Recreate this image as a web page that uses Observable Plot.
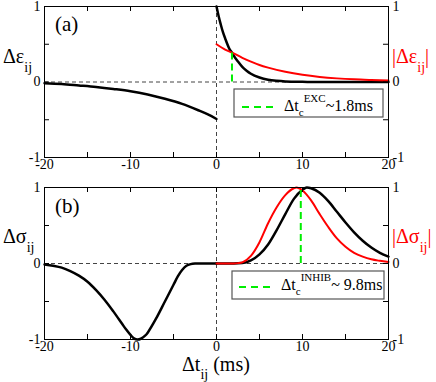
<!DOCTYPE html>
<html><head><meta charset="utf-8">
<script src="https://cdn.jsdelivr.net/npm/d3@7"></script>
<script src="https://cdn.jsdelivr.net/npm/@observablehq/plot@0.6"></script>
</head><body style="margin:0;background:#fff">
<div id="chart" style="width:436px;height:382px"></div>
<script>
// ---- data ----
const excBlackNegT = [-20,-18,-16,-14,-12,-10,-8,-6,-4,-2,-1,0];
const excBlackNegV = [-0.015,-0.025,-0.045,-0.066,-0.092,-0.122,-0.165,-0.222,-0.29,-0.38,-0.43,-0.49];
const excBlackPosT = [0,0.25,0.5,0.75,1,1.5,1.8,2,2.5,3,3.5,4,5,6,7,8,10,12,15,20];
const excBlackPosV = [1.0,0.87,0.76,0.66,0.58,0.44,0.39,0.35,0.27,0.2,0.15,0.11,0.06,0.03,0.015,0.007,0.002,0,0,0];
const excRedT = [0,1,1.8,3,4,5,6,8,10,12,14,16,18,20];
const excRedV = [0.5,0.43,0.39,0.32,0.27,0.225,0.19,0.135,0.095,0.067,0.048,0.035,0.027,0.021];
const excMarkT = [1.8];
const excMarkV = [0.39];

const inhBlackNegT = [-20,-19,-18,-17,-16,-15,-14,-13,-12,-11,-10.5,-10,-9.6,-9.2,-8.8,-8.3,-8,-7,-6,-5,-4.5,-4,-3.5,-3,-2.5,-1,0];
const inhBlackNegV = [-0.012,-0.03,-0.055,-0.1,-0.16,-0.24,-0.35,-0.48,-0.63,-0.79,-0.87,-0.94,-0.985,-1.0,-0.99,-0.95,-0.91,-0.72,-0.5,-0.28,-0.17,-0.085,-0.03,-0.008,0,0,0];
const inhBlackPosT = [0,2,3,4,5,6,7,8,9,10,10.5,11,12,13,14,15,16,17,18,19,20];
const inhBlackPosV = [0,0,0.005,0.04,0.12,0.25,0.44,0.65,0.85,0.97,1.0,0.99,0.93,0.82,0.68,0.54,0.41,0.3,0.21,0.14,0.09];
const inhRedT = [0,2,2.5,3,4,5,6,7,8,9,9.3,10,11,12,13,14,15,16,17,18,19,20];
const inhRedV = [0,0,0.005,0.015,0.1,0.28,0.53,0.74,0.9,0.99,1.0,0.96,0.83,0.65,0.48,0.33,0.22,0.14,0.09,0.055,0.035,0.02];
const inhMarkT = [9.8];
const inhMarkV = [1.0];

const xTicks = [-20,-15,-10,-5,0,5,10,15,20];
const xTickLabels = [-20,-10,0,10,20];
const yTicks = [-1,-0.5,0,0.5,1];
const yTickLabels = [-1,0,1];

const zip = (T, V) => T.map((t, i) => ({t, v: V[i]}));
const GREEN = "#00ee00", RED = "#ff0000";
const FONT = "Liberation Serif";

function rich(svg, x, y, parts, fill = "black") {
  const t = d3.select(svg).append("text").attr("x", x).attr("y", y)
    .attr("fill", fill).attr("text-anchor", "start").attr("font-family", FONT);
  for (const p of parts) t.append("tspan").attr("font-size", p.s).attr("font-family", FONT).attr("dy", p.dy || 0).text(p.t);
  return t;
}

function panel({height, mt, mb, negT, negV, posT, posV, redT, redV, markT, markV}) {
  const plotH = height - mt - mb;
  const TL = 5;
  return Plot.plot({
    width: 436, height, marginLeft: 44, marginRight: 48, marginTop: mt, marginBottom: mb,
    x: {domain: [-20, 20]}, y: {domain: [-1, 1]},
    style: {fontFamily: FONT, fontSize: "14px", background: "white", overflow: "visible"},
    marks: [
      Plot.ruleY([0], {stroke: "#444", strokeDasharray: "4,3", strokeWidth: 1}),
      Plot.ruleX([0], {stroke: "#444", strokeDasharray: "4,3", strokeWidth: 1}),
      Plot.line(zip(negT, negV), {x: "t", y: "v", stroke: "black", strokeWidth: 2.5, curve: "catmull-rom"}),
      Plot.line(zip(posT, posV), {x: "t", y: "v", stroke: "black", strokeWidth: 2.5, curve: "monotone-x"}),
      Plot.line(zip(redT, redV), {x: "t", y: "v", stroke: RED, strokeWidth: 2, curve: "monotone-x"}),
      Plot.ruleX(zip(markT, markV), {x: "t", y1: 0, y2: "v", stroke: GREEN, strokeWidth: 2, strokeDasharray: "7,4"}),
      Plot.frame({stroke: "black", strokeWidth: 1}),
      Plot.tickX(xTicks, {x: d => d, insetTop: plotH - TL, stroke: "black"}),
      Plot.tickX(xTicks, {x: d => d, insetBottom: plotH - TL, stroke: "black"}),
      Plot.tickY(yTicks, {y: d => d, insetRight: 344 - TL, stroke: "black"}),
      Plot.tickY(yTicks, {y: d => d, insetLeft: 344 - TL, stroke: "black"}),
      Plot.axisX(xTickLabels, {anchor: "bottom", tickSize: 0, tickPadding: 2, label: null, fontSize: 14, fontFamily: FONT, fontVariant: "normal", tickFormat: d => String(d)}),
      Plot.axisY(yTickLabels, {anchor: "left", tickSize: 0, tickPadding: 4, label: null, fontSize: 14, fontFamily: FONT, fontVariant: "normal", tickFormat: d => String(d)}),
      Plot.axisY(yTickLabels, {anchor: "right", tickSize: 0, tickPadding: 4, label: null, fontSize: 14, fontFamily: FONT, fontVariant: "normal", tickFormat: d => String(d)})
    ]
  });
}

const root = document.getElementById("chart");

const a = panel({height: 180, mt: 6, mb: 23,
  negT: excBlackNegT, negV: excBlackNegV, posT: excBlackPosT, posV: excBlackPosV,
  redT: excRedT, redV: excRedV, markT: excMarkT, markV: excMarkV});
a.style.display = "block";
root.appendChild(a);

const b = panel({height: 202, mt: 7, mb: 43,
  negT: inhBlackNegT, negV: inhBlackNegV, posT: inhBlackPosT, posV: inhBlackPosV,
  redT: inhRedT, redV: inhRedV, markT: inhMarkT, markV: inhMarkV});
b.style.display = "block";
root.appendChild(b);

// panel labels
rich(a, 55, 31, [{t: "(a)", s: 21}]);
rich(b, 55, 33, [{t: "(b)", s: 21}]);
rich(a, 3, 63, [{t: "Δε", s: 20}, {t: "ij", s: 14, dy: 9}]);
rich(a, 392, 63, [{t: "|Δε", s: 20}, {t: "ij", s: 14, dy: 9}, {t: "|", s: 20, dy: -9}], RED);
rich(b, 3, 63, [{t: "Δσ", s: 20}, {t: "ij", s: 14, dy: 9}]);
rich(b, 392, 63, [{t: "|Δσ", s: 20}, {t: "ij", s: 14, dy: 9}, {t: "|", s: 20, dy: -9}], RED);
rich(b, 182, 191, [{t: "Δt", s: 20}, {t: "ij", s: 14, dy: 8}, {t: " (ms)", s: 20, dy: -8}]);

// legend boxes
function legend(svg, x, y, w, h, lx1, lx2, ly, tx, ty, sup, rest) {
  const s = d3.select(svg);
  s.append("rect").attr("x", x).attr("y", y).attr("width", w).attr("height", h)
    .attr("fill", "white").attr("stroke", "#555").attr("stroke-width", 1.2);
  s.append("line").attr("x1", lx1).attr("x2", lx2).attr("y1", ly).attr("y2", ly)
    .attr("stroke", GREEN).attr("stroke-width", 2).attr("stroke-dasharray", "7,5");
  rich(svg, tx, ty, [{t: "Δt", s: 16}, {t: "c", s: 11, dy: 5}, {t: sup, s: 11, dy: -14}, {t: rest, s: 16, dy: 9}]);
}
legend(a, 234, 89, 149, 28, 242, 277, 107, 284, 111, "EXC", "~1.8ms");
legend(b, 232, 91, 152, 28, 239, 274, 107, 281, 110, "INHIB", "~ 9.8ms");

// force the serif face everywhere, with an in-SVG stylesheet and inline !important
for (const svg of [a, b]) {
  d3.select(svg).append("style")
    .text('text, tspan { font-family: "Liberation Serif", "Times New Roman", serif !important; font-variant: normal !important; }');
  d3.select(svg).selectAll("text, tspan")
    .attr("font-family", FONT)
    .style("font-family", '"Liberation Serif", "Times New Roman", serif', "important");
}
</script></body></html>
